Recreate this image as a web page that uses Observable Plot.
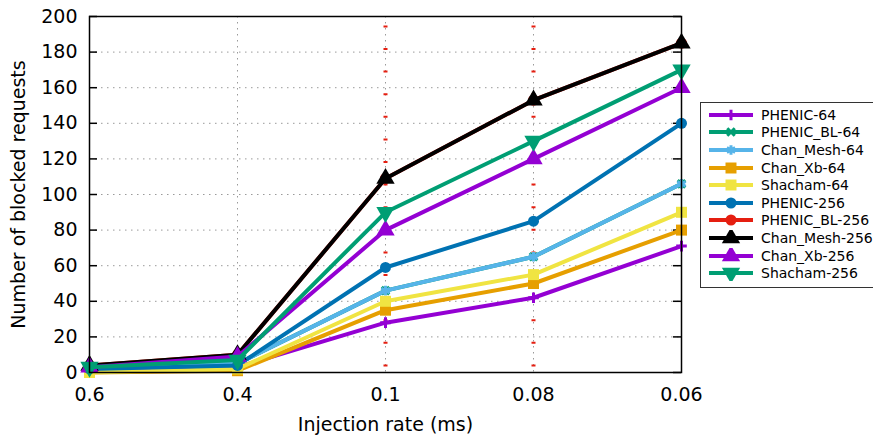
<!DOCTYPE html>
<html><head><meta charset="utf-8">
<script src="https://cdn.jsdelivr.net/npm/d3@7"></script>
<script src="https://cdn.jsdelivr.net/npm/@observablehq/plot@0.6"></script>
<style>
html,body{margin:0;padding:0;background:#fff;overflow:hidden}
#wrap{position:relative;width:873px;height:439px;font-family:"DejaVu Sans",sans-serif}
#legend{position:absolute;left:700px;top:102px;width:200px;border:1.5px solid #333;background:#fff;padding:3px 0 5px 0;box-sizing:border-box}
.row{display:flex;align-items:center;height:17.6px;font-size:14px;white-space:nowrap}
.row svg{margin-left:8px;margin-right:8px;flex:none}
</style></head><body><div id="wrap"></div>
<script>
const categories = ["0.6", "0.4", "0.1", "0.08", "0.06"];
const seriesNames = ["PHENIC-64", "PHENIC_BL-64", "Chan_Mesh-64", "Chan_Xb-64", "Shacham-64",
  "PHENIC-256", "PHENIC_BL-256", "Chan_Mesh-256", "Chan_Xb-256", "Shacham-256"];
const phenic64     = [1, 3, 28, 42, 71];
const phenicBL64   = [2, 5, 46, 65, 106];
const chanMesh64   = [2, 5, 46, 65, 106];
const chanXb64     = [0, 1, 35, 50, 80];
const shacham64    = [0, 2, 40, 55, 90];
const phenic256    = [2, 4, 59, 85, 140];
const phenicBL256  = [4, 10, 109, 153, 185];
const chanMesh256  = [4, 10, 109, 153, 185];
const chanXb256    = [3, 9, 80, 120, 160];
const shacham256   = [3, 7, 90, 130, 170];
const yTicks = [0, 20, 40, 60, 80, 100, 120, 140, 160, 180, 200];
const xGridCats = ["0.4", "0.1", "0.08"];
const xMarkedCats = ["0.1", "0.08"];

const seriesValues = [phenic64, phenicBL64, chanMesh64, chanXb64, shacham64,
  phenic256, phenicBL256, chanMesh256, chanXb256, shacham256];
const seriesColors = ["#9400d3", "#009e73", "#56b4e9", "#e69f00", "#f0e442",
  "#0072b2", "#e51e10", "#000000", "#9400d3", "#009e73"];
const seriesSymbols = ["plus", "times", "asterisk", "square", "square",
  "circle", "circle", "triangle", "triangle", "triangle"];
const seriesRotate = [0, 0, 0, 0, 0, 0, 0, 0, 0, 180];
const seriesR = [3.5, 3.5, 4.5, 6.2, 6.2, 5.5, 5.5, 6.8, 6.8, 6.8];
const strokeSyms = new Set(["plus", "times", "asterisk"]);

const rowsBySeries = seriesNames.map((name, i) =>
  categories.map((c, j) => ({series: name, x: c, y: seriesValues[i][j]})));

const marks = [
  Plot.ruleY(yTicks.filter(t => t > 0 && t < 200), {y: d => d, stroke: "#9a9a9a", strokeWidth: 1, strokeDasharray: "1.5,4.5"}),
  Plot.ruleX(xGridCats, {x: d => d, stroke: "#9a9a9a", strokeWidth: 1, strokeDasharray: "1.5,4.5"}),
  Plot.ruleX(xMarkedCats, {x: d => d, stroke: "#e51e10", strokeWidth: 4, strokeDasharray: "2,20.6", strokeDashoffset: 13.2}),
  Plot.ruleY(yTicks, {y: d => d, insetRight: 584, stroke: "black", strokeWidth: 1.5}),
  Plot.ruleY(yTicks, {y: d => d, insetLeft: 584, stroke: "black", strokeWidth: 1.5}),
  Plot.axisY({ticks: yTicks, anchor: "left", tickSize: 0, tickPadding: 12, fontSize: 19,
    label: "Number of blocked requests", labelAnchor: "center", labelOffset: 78, labelArrow: "none"}),
  Plot.axisX({anchor: "bottom", tickSize: 0, tickPadding: 15, fontSize: 19,
    label: "Injection rate (ms)", labelAnchor: "center", labelOffset: 58, labelArrow: "none"})
];
rowsBySeries.forEach((rows, i) => {
  marks.push(Plot.line(rows, {x: "x", y: "y", stroke: seriesColors[i], strokeWidth: 4}));
  const sym = seriesSymbols[i];
  const dotOpts = {x: "x", y: "y", symbol: () => sym, r: seriesR[i], rotate: seriesRotate[i]};
  if (strokeSyms.has(sym)) { dotOpts.stroke = seriesColors[i]; dotOpts.strokeWidth = 3; dotOpts.fill = "none"; }
  else { dotOpts.fill = seriesColors[i]; dotOpts.stroke = "none"; }
  marks.push(Plot.dot(rows, dotOpts));
});
marks.push(Plot.frame({stroke: "black", strokeWidth: 1.5}));

const chart = Plot.plot({
  width: 873, height: 439,
  marginLeft: 89, marginRight: 192, marginTop: 16, marginBottom: 67,
  style: {fontFamily: "DejaVu Sans, sans-serif", fontSize: "19px", color: "black", background: "white", overflow: "visible"},
  x: {type: "point", domain: categories, padding: 0},
  y: {domain: [0, 200]},
  symbol: {type: "identity"},
  marks
});
const wrap = document.getElementById("wrap");
wrap.appendChild(chart);

// legend
const legend = document.createElement("div");
legend.id = "legend";
seriesNames.forEach((name, i) => {
  const row = document.createElement("div");
  row.className = "row";
  const svg = d3.create("svg").attr("width", 44).attr("height", 16);
  svg.append("line").attr("x1", 0).attr("x2", 44).attr("y1", 8).attr("y2", 8)
    .attr("stroke", seriesColors[i]).attr("stroke-width", 4);
  const symMap = {plus: d3.symbolPlus, times: d3.symbolTimes, asterisk: d3.symbolAsterisk,
    square: d3.symbolSquare, circle: d3.symbolCircle, triangle: d3.symbolTriangle};
  const sym = seriesSymbols[i];
  const p = svg.append("path").attr("d", d3.symbol(symMap[sym], Math.PI * seriesR[i] * seriesR[i])())
    .attr("transform", `translate(22,8) rotate(${seriesRotate[i]})`);
  if (strokeSyms.has(sym)) p.attr("fill", "none").attr("stroke", seriesColors[i]).attr("stroke-width", 3);
  else p.attr("fill", seriesColors[i]);
  row.appendChild(svg.node());
  const t = document.createElement("span");
  t.textContent = name;
  row.appendChild(t);
  legend.appendChild(row);
});
wrap.appendChild(legend);
</script></body></html>
